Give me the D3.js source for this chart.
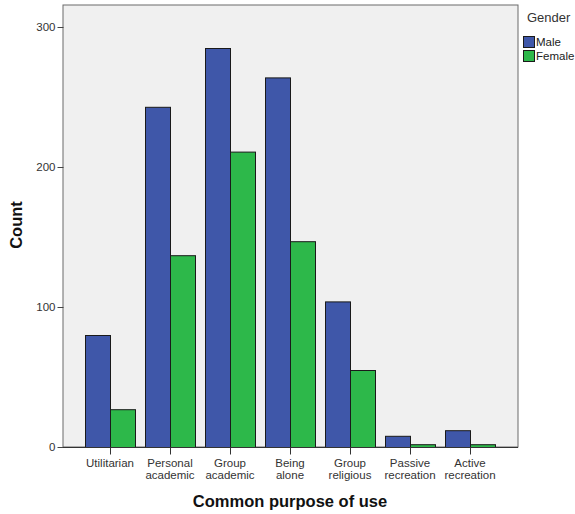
<!DOCTYPE html>
<html><head><meta charset="utf-8">
<script src="https://cdn.jsdelivr.net/npm/d3@7"></script>
<style>body{margin:0;background:#fff;}svg{display:block;font-family:"Liberation Sans",Arial,sans-serif;}</style>
</head><body>
<script>
const categories = ["Utilitarian","Personal academic","Group academic","Being alone","Group religious","Passive recreation","Active recreation"];
const categoryLines = [["Utilitarian"],["Personal","academic"],["Group","academic"],["Being","alone"],["Group","religious"],["Passive","recreation"],["Active","recreation"]];
const genders = ["Male","Female"];
const maleCounts = [80, 243, 285, 264, 104, 8, 12];
const femaleCounts = [27, 137, 211, 147, 55, 2, 2];
const yTicks = [0, 100, 200, 300];
const colors = {Male:"#3f57a9", Female:"#2db84a"};

const W = 575, H = 514;
const frame = {l:63, r:518, t:5, b:447};
const svg = d3.select("body").append("svg").attr("width", W).attr("height", H);

const y = d3.scaleLinear().domain([0, 300]).range([447, 27]);
const x = d3.scaleBand().domain(categories).range([80, 500]).paddingInner(1/6).paddingOuter(1/12);
const xs = d3.scaleBand().domain(genders).range([0, x.bandwidth()]);

svg.append("rect").attr("x", frame.l).attr("y", frame.t).attr("width", frame.r-frame.l).attr("height", frame.b-frame.t)
  .attr("fill", "#f0f0f0").attr("stroke", "#6a6a6a").attr("stroke-width", 1);

const series = {Male: maleCounts, Female: femaleCounts};
genders.forEach(g => {
  svg.append("g").selectAll("rect").data(categories).join("rect")
    .attr("x", c => x(c) + xs(g) + 0.5)
    .attr("y", (c,i) => y(series[g][i]) + 0.5)
    .attr("width", xs.bandwidth())
    .attr("height", (c,i) => y(0) - y(series[g][i]))
    .attr("fill", colors[g]).attr("stroke", "#1a1a1a").attr("stroke-width", 1);
});

// y axis
const yAxis = d3.axisLeft(y).tickValues(yTicks).tickSize(6).tickPadding(2);
const ga = svg.append("g").attr("transform", `translate(${frame.l+0.5},0)`).call(yAxis);
ga.select(".domain").remove();
ga.selectAll("line").attr("stroke", "#444");
ga.selectAll("text").attr("font-size", 11.5).attr("fill", "#333").attr("font-family", "Liberation Sans, Arial, sans-serif");

// x axis
const xAxis = d3.axisBottom(x).tickSize(7).tickFormat("");
const gx = svg.append("g").attr("transform", `translate(0.5,${frame.b+0.5})`).call(xAxis);
gx.select(".domain").attr("stroke", "#333").attr("d", `M${frame.l-0.5},0H${frame.r-0.5}`);
gx.selectAll("line").attr("stroke", "#333");
const labs = svg.append("g");
categories.forEach((c,i) => {
  const t = labs.append("text").attr("x", x(c) + x.bandwidth()/2).attr("y", 467)
    .attr("text-anchor", "middle").attr("font-size", 11.5).attr("fill", "#333");
  categoryLines[i].forEach((ln, j) => t.append("tspan").attr("x", x(c) + x.bandwidth()/2).attr("dy", j ? 11.5 : 0).text(ln));
});

svg.append("text").attr("x", 290).attr("y", 507).attr("text-anchor", "middle")
  .attr("font-size", 16.5).attr("font-weight", "bold").attr("fill", "#111").text("Common purpose of use");
svg.append("text").attr("transform", "translate(22,225) rotate(-90)").attr("text-anchor", "middle")
  .attr("font-size", 16.5).attr("font-weight", "bold").attr("fill", "#111").text("Count");

// legend
svg.append("text").attr("x", 527).attr("y", 22).attr("font-size", 13).attr("fill", "#333").text("Gender");
genders.forEach((g,i) => {
  svg.append("rect").attr("x", 523.5).attr("y", 36.5 + i*14).attr("width", 11).attr("height", 11)
    .attr("fill", colors[g]).attr("stroke", "#1a1a1a");
  svg.append("text").attr("x", 536).attr("y", 46 + i*14).attr("font-size", 11.5).attr("fill", "#222").text(g);
});
</script>
</body></html>
